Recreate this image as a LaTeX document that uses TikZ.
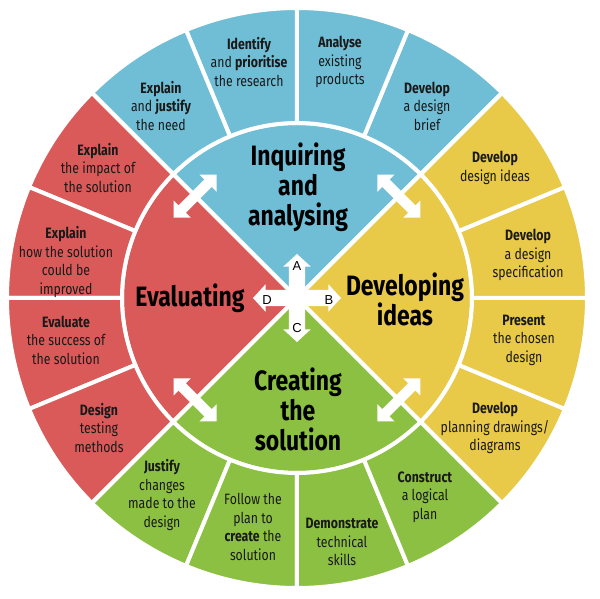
\documentclass[tikz,border=0pt]{standalone}
\usepackage{fontspec}
\setmainfont{Fira Sans}[FakeStretch=0.82]
\newfontfamily\letterfont{Liberation Sans}
\usetikzlibrary{shapes.arrows}
\definecolor{inqblue}{RGB}{112,190,214}
\definecolor{devyellow}{RGB}{233,201,72}
\definecolor{evalred}{RGB}{218,90,90}
\definecolor{creagreen}{RGB}{140,192,66}
\def\SEG#1#2{\filldraw[#2,draw=white,line width=4pt,line join=round] (#1:175) -- (#1:290) arc[start angle=#1,delta angle=22.5,radius=290] -- ({#1+22.5}:175) arc[start angle=#1+22.5,delta angle=-22.5,radius=175] -- cycle;}
\def\QUAD#1#2{\filldraw[#2,draw=white,line width=4pt,line join=round] (0,0) -- (#1:175) arc[start angle=#1,delta angle=90,radius=175] -- cycle;}
\tikzset{
  task/.style={align=center, font=\fontsize{15}{18.5}\selectfont, text=black!90},
  phase/.style={align=center, font=\bfseries\fontsize{28}{30}\selectfont},
  twoway/.style={double arrow, fill=white, inner xsep=0pt, inner ysep=5pt, double arrow head extend=7pt,
    double arrow tip angle=90, minimum height=61pt},
  hubarrow/.style={double arrow, fill=white, inner xsep=0pt, inner ysep=8pt, double arrow head extend=5.5pt,
    double arrow tip angle=95, minimum height=88pt},
  letter/.style={font=\letterfont\fontsize{13}{13}\selectfont}
}

\begin{document}
\begin{tikzpicture}[x=1pt,y=1pt]
\useasboundingbox (-297,-301) rectangle (303,298);
\foreach \c [count=\i from 0] in {inqblue,evalred,creagreen,devyellow}{
  \pgfmathsetmacro\q{45+90*\i}
  \QUAD{\q}{\c}
  \foreach \j in {0,1,2,3}{
    \pgfmathsetmacro\a{\q+22.5*\j}
    \SEG{\a}{\c}
  }
}
% outer ring
\node[task] (t1) at (-136,192) {\textbf{Explain}\\ and \textbf{justify}\\ the need};
\node[task] (t2) at (-48,236) {\textbf{Identify}\\ and \textbf{prioritise}\\ the research};
\node[task] (t3) at (43,236) {\textbf{Analyse}\\ existing\\ products};
\node[task] (t4) at (130,192) {\textbf{Develop}\\ a design\\ brief};
\node[task] (t5) at (198,130) {\textbf{Develop}\\ design ideas};
\node[task] (t6) at (231,43) {\textbf{Develop}\\ a design\\ specification};
\node[task] (t7) at (227,-42) {\textbf{Present}\\ the chosen\\ design};
\node[task] (t8) at (198,-130) {\textbf{Develop}\\ planning drawings/\\ diagrams};
\node[task] (t9) at (128,-199) {\textbf{Construct}\\ a logical\\ plan};
\node[task] (t10) at (45,-244) {\textbf{Demonstrate}\\ technical\\ skills};
\node[task] (t11) at (-44,-229) {Follow the\\ plan to\\ \textbf{create} the\\ solution};
\node[task] (t12) at (-135,-197) {\textbf{Justify}\\ changes\\ made to the\\ design};
\node[task] (t13) at (-198,-130) {\textbf{Design}\\ testing\\ methods};
\node[task] (t14) at (-231,-42) {\textbf{Evaluate}\\ the success of\\ the solution};
\node[task] (t15) at (-231,36) {\textbf{Explain}\\ how the solution\\ could be\\ improved};
\node[task] (t16) at (-199,130) {\textbf{Explain}\\ the impact of\\ the solution};
% phases
\node[phase] (inquiring) at (1,111) {Inquiring\\ and\\ analysing};
\node[phase] (developing) at (108,-1) {Developing\\ ideas};
\node[phase] (creating) at (1,-111) {Creating\\ the\\ solution};
\node[phase] (evaluating) at (-107,0) {Evaluating};
\foreach \ang in {45,135,225,315} \node[twoway,rotate=\ang+90] (link\ang) at (\ang:144) {};
% hub
\node[hubarrow] (hubh) at (0,0) {};
\node[hubarrow,rotate=90] (hubv) at (0,0) {};
\node[letter] (A) at (0,32) {A};
\node[letter] (B) at (32,-2) {B};
\node[letter] (C) at (0,-30) {C};
\node[letter] (D) at (-30,-2) {D};
\end{tikzpicture}
\end{document}
